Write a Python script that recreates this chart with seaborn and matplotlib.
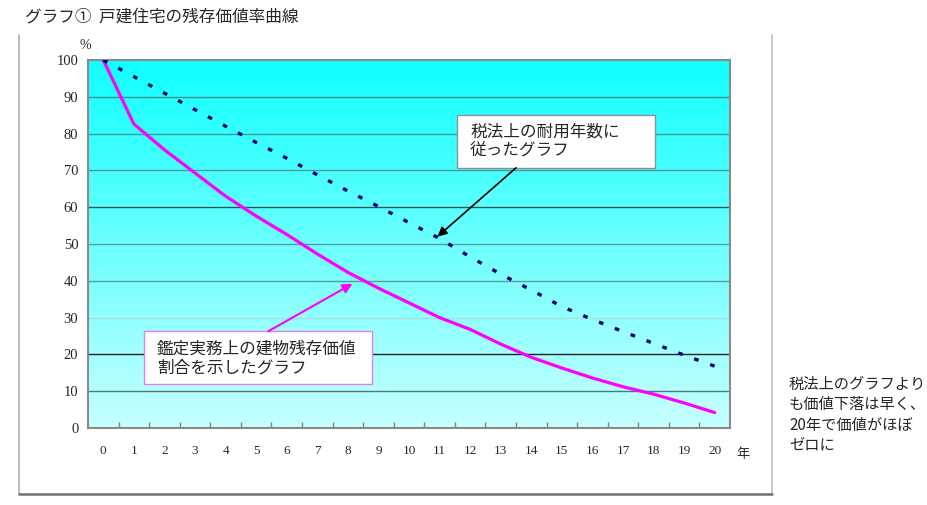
import numpy as np
import pandas as pd
import matplotlib
matplotlib.use("Agg")
import matplotlib.pyplot as plt
from matplotlib.lines import Line2D
from matplotlib.patches import Rectangle
from matplotlib.colors import LinearSegmentedColormap
import seaborn as sns

# data
years = list(range(21))
tax_rule = [100, 95.5, 91, 86.5, 82, 77.6, 73.3, 68.8, 64.4, 60.2, 55.8,
            51.5, 46.5, 41.8, 37.5, 33, 29.5, 26.2, 23, 19.8, 16.8]
appraisal = [100, 82.6, 75.6, 69.3, 63, 57.6, 52.6, 47.3, 42.3, 38, 34,
             30, 26.8, 22.8, 19.2, 16.3, 13.6, 11.2, 9.2, 6.8, 4.2]
y_ticks = [0, 10, 20, 30, 40, 50, 60, 70, 80, 90, 100]

title = "グラフ①  戸建住宅の残存価値率曲線"
label_tax = "税法上の耐用年数に\n従ったグラフ"
label_appraisal = "鑑定実務上の建物残存価値\n割合を示したグラフ"
side_note = "税法上のグラフより\nも価値下落は早く、\n20年で価値がほぼ\nゼロに"

df = pd.DataFrame({"year": years, "tax": tax_rule, "appraisal": appraisal})

sns.set_theme(style="white")
jp = ["Noto Sans CJK JP", "DejaVu Sans"]
plt.rcParams["font.family"] = jp

fig = plt.figure(figsize=(9.28, 5.05), dpi=100)
ax = fig.add_axes([88 / 928, 1 - 428 / 505, 642 / 928, 368 / 505])

# background gradient, cyan at the top fading to pale cyan
grad = LinearSegmentedColormap.from_list("cy", ["#c8ffff", "#10ffff"])
ax.imshow(np.linspace(0, 1, 256).reshape(-1, 1), cmap=grad, aspect="auto",
          extent=[-0.5, 20.5, 0, 100], origin="lower", zorder=0)

# horizontal grid lines (the reference renders them in mixed shades)
grid_cols = {10: "#4a7a7a", 20: "#202020", 30: "#a8e0e0", 40: "#5a9a9a",
             50: "#5a9a9a", 60: "#205858", 70: "#4a9a9a", 80: "#3a9a9a",
             90: "#3a9090"}
for v, c in grid_cols.items():
    ax.axhline(v, color=c, lw=1, zorder=1)

sns.lineplot(data=df, x="year", y="appraisal", ax=ax, color="#ff00ff",
             lw=2.3, zorder=3)
sns.lineplot(data=df, x="year", y="tax", ax=ax, color="#000070",
             lw=2.4, dashes=False, zorder=3)
ax.lines[-1].set_dashes((1.4, 3.7))
ax.lines[-1].set_dash_capstyle("butt")

ax.set_xlim(-0.5, 20.5)
ax.set_ylim(0, 100)
ax.set_xlabel("")
ax.set_ylabel("")
ax.set_xticks(years)
ax.set_xticklabels([str(y) for y in years], family="Liberation Serif",
                   fontsize=9.5)
ax.set_xticks(np.arange(0.5, 20.5, 1), minor=True)
ax.tick_params(axis="x", which="major", length=0, pad=12)
ax.tick_params(axis="x", which="minor", direction="in", length=4,
               color="#808080", bottom=True)
ax.set_yticks(y_ticks)
ax.set_yticklabels([str(v) for v in y_ticks], family="Liberation Serif",
                   fontsize=10.5)
ax.tick_params(axis="y", length=0, pad=7)
for s in ax.spines.values():
    s.set_color("#8a8a8a")
    s.set_linewidth(1.5)
    s.set_visible(True)

ax.text(-0.58, 102.3, "%", family="Liberation Serif", fontsize=10,
        ha="center", va="bottom")
ax.text(20.7, -7.2, "年", fontsize=9.5, ha="left", va="center")

# callout boxes
ax.add_patch(Rectangle((11.57, 70.7), 6.47, 14.4, fc="white", ec="#909090",
                       lw=1, zorder=5))
ax.text(12.0, 77.9, label_tax, fontsize=12, ha="left", va="center",
        linespacing=1.15, zorder=6)
ax.annotate("", xy=(10.93, 52), xytext=(13.5, 70.7),
            arrowprops=dict(arrowstyle="-|>", color="black", lw=1.2,
                            mutation_scale=14, shrinkA=0, shrinkB=0),
            zorder=5)

ax.add_patch(Rectangle((1.34, 11.9), 7.45, 14.4, fc="white", ec="#e080f0",
                       lw=1, zorder=5))
ax.text(1.76, 19.0, label_appraisal, fontsize=12, ha="left", va="center",
        linespacing=1.15, zorder=6)
ax.annotate("", xy=(8.15, 39.2), xytext=(5.4, 26.3),
            arrowprops=dict(arrowstyle="-|>", color="#ff00ff", lw=1.5,
                            mutation_scale=14, shrinkA=0, shrinkB=0),
            zorder=5)

fig.text(25 / 928, 1 - 17 / 505, title, fontsize=12, ha="left",
         va="center")
fig.text(789 / 928, 1 - 376 / 505, side_note, fontsize=11, ha="left",
         va="top", linespacing=1.25)

# outer frame of the slide
fig.add_artist(Line2D([19 / 928, 19 / 928], [1 - 35 / 505, 1 - 494 / 505],
                      color="#b0b0b0", lw=1.2))
fig.add_artist(Line2D([772 / 928, 772 / 928], [1 - 35 / 505, 1 - 494 / 505],
                      color="#c0c0c0", lw=1.2))
fig.add_artist(Line2D([19 / 928, 772 / 928], [1 - 494 / 505, 1 - 494 / 505],
                      color="#707070", lw=1.8))

fig.savefig("out.png", dpi=100)
